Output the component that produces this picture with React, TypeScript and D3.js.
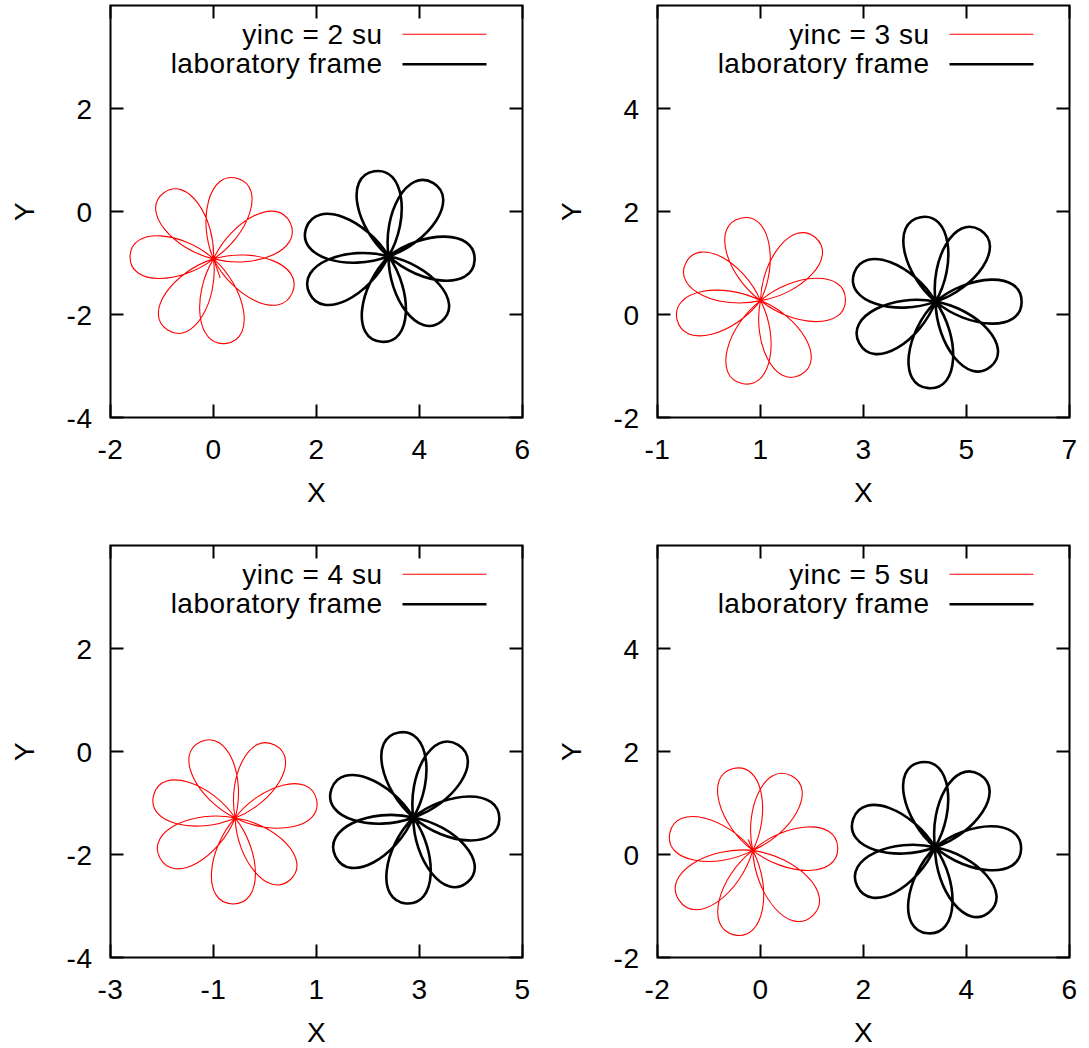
import React from 'react';
import * as d3 from 'd3';

// ---------- data ----------
const panelLabels = ['yinc = 2 su', 'yinc = 3 su', 'yinc = 4 su', 'yinc = 5 su'];
const labFrameLabel = 'laboratory frame';
const xAxisLabel = 'X';
const yAxisLabel = 'Y';

const xDomains: [number, number][] = [[-2, 6], [-1, 7], [-3, 5], [-2, 6]];
const yDomains: [number, number][] = [[-4, 4], [-2, 6], [-4, 4], [-2, 6]];
const xTickValues = [[-2, 0, 2, 4, 6], [-1, 1, 3, 5, 7], [-3, -1, 1, 3, 5], [-2, 0, 2, 4, 6]];
const yTickValues = [[-4, -2, 0, 2], [-2, 0, 2, 4], [-4, -2, 0, 2], [-2, 0, 2, 4]];

// red (moving frame) flowers: centre and seven petal tips
const redCenters: [number, number][] = [[0.0, -0.92], [1.0, 0.27], [-0.58, -1.29], [-0.15, 0.08]];
const redTips: [number, number][][] = [
  [[0.47, 0.64], [-0.97, 0.36], [-1.62, -0.87], [-0.89, -2.30], [0.25, -2.56], [1.53, -1.58], [1.49, -0.22]],
  [[0.61, 1.87], [2.07, 1.49], [2.65, 0.29], [1.78, -1.17], [0.64, -1.34], [-0.62, -0.10], [-0.45, 1.0]],
  [[-1.25, 0.19], [0.20, 0.12], [1.0, -0.93], [0.49, -2.49], [-0.63, -2.96], [-2.04, -2.07], [-2.16, -0.84]],
  [[-0.53, 1.67], [0.60, 1.53], [1.50, 0.13], [1.01, -1.19], [-0.51, -1.56], [-1.58, -0.89], [-1.76, 0.42]],
];
const redTails: ([number, number] | null)[] = [[0.13, -1.29], null, null, [-0.24, 0.29]];

// black (laboratory frame) flowers
const blackCenters: [number, number][] = [[3.40, -0.87], [4.40, 0.25], [2.88, -1.28], [3.39, 0.14]];
const blackTips: [number, number][][] = [
  [[3.12, 0.78], [4.27, 0.55], [5.07, -0.94], [4.43, -2.13], [3.26, -2.53], [1.86, -1.58], [1.80, -0.32]],
  [[4.11, 1.89], [5.27, 1.64], [6.07, 0.25], [5.47, -1.01], [4.26, -1.43], [2.92, -0.56], [2.82, 0.81]],
  [[2.60, 0.37], [3.75, 0.13], [4.55, -1.31], [3.93, -2.54], [2.74, -2.95], [1.37, -2.04], [1.29, -0.73]],
  [[3.11, 1.79], [4.26, 1.55], [5.06, 0.11], [4.44, -1.12], [3.25, -1.53], [1.88, -0.62], [1.80, 0.69]],
];

// ---------- layout ----------
const W = 1089;
const H = 1048;
const panelLeft = [110.5, 657.5, 110.5, 657.5];
const panelTop = [5.5, 5.5, 545.5, 545.5];
const plotSize = 412;
const FONT = '"Liberation Sans", Arial, Helvetica, sans-serif';
const FS = 28;
const LS = 0.5;
const TICK = 13;
// petal glyph shape
const PETAL_BETA = (40 * Math.PI) / 180; // departure angle at the centre
const PETAL_A = 0.5; // handle length at the centre (fraction of petal length)
const PETAL_B = 0.36; // handle length at the tip (fraction of petal length)

function petalPath(p: d3.Path, cx: number, cy: number, tx: number, ty: number) {
  const dx = tx - cx;
  const dy = ty - cy;
  const L = Math.hypot(dx, dy);
  const ang = Math.atan2(dy, dx);
  const pt = (bx: number, by: number, a: number, len: number): [number, number] => [bx + len * Math.cos(a), by + len * Math.sin(a)];
  const c1 = pt(cx, cy, ang + PETAL_BETA, PETAL_A * L);
  const c2 = pt(tx, ty, ang + Math.PI / 2, PETAL_B * L);
  const c3 = pt(tx, ty, ang - Math.PI / 2, PETAL_B * L);
  const c4 = pt(cx, cy, ang - PETAL_BETA, PETAL_A * L);
  p.moveTo(cx, cy);
  p.bezierCurveTo(c1[0], c1[1], c2[0], c2[1], tx, ty);
  p.bezierCurveTo(c3[0], c3[1], c4[0], c4[1], cx, cy);
}

function Panel({ i }: { i: number }) {
  const left = panelLeft[i];
  const top = panelTop[i];
  const x = d3.scaleLinear().domain(xDomains[i]).range([left, left + plotSize]);
  const y = d3.scaleLinear().domain(yDomains[i]).range([top + plotSize, top]);
  const right = left + plotSize;
  const bottom = top + plotSize;
  const textStyle = { fontFamily: FONT, fontSize: FS, letterSpacing: LS } as React.CSSProperties;

  const flower = (center: [number, number], tips: [number, number][]) => {
    const p = d3.path();
    tips.forEach((t) => petalPath(p, x(center[0]), y(center[1]), x(t[0]), y(t[1])));
    return p.toString();
  };

  const tail = redTails[i];
  const lineY1 = top + 28.8;
  const lineY2 = top + 58.8;

  return (
    <g>
      {/* curves */}
      <path d={flower(redCenters[i], redTips[i])} fill="none" stroke="#ff0000" strokeWidth={1.1} />
      {tail && (
        <line x1={x(redCenters[i][0])} y1={y(redCenters[i][1])} x2={x(tail[0])} y2={y(tail[1])} stroke="#ff0000" strokeWidth={1.1} />
      )}
      <path d={flower(blackCenters[i], blackTips[i])} fill="none" stroke="#000" strokeWidth={2.6} strokeLinejoin="round" />

      {/* frame */}
      <rect x={left} y={top} width={plotSize} height={plotSize} fill="none" stroke="#000" strokeWidth={2} />
      {xTickValues[i].map((v) => (
        <g key={'xt' + v}>
          <line x1={x(v)} x2={x(v)} y1={bottom} y2={bottom - TICK} stroke="#000" strokeWidth={2} />
          <line x1={x(v)} x2={x(v)} y1={top} y2={top + TICK} stroke="#000" strokeWidth={2} />
          <text x={x(v)} y={bottom + 41} textAnchor="middle" style={textStyle}>{v}</text>
        </g>
      ))}
      {yTickValues[i].map((v) => (
        <g key={'yt' + v}>
          <line x1={left} x2={left + TICK} y1={y(v)} y2={y(v)} stroke="#000" strokeWidth={2} />
          <line x1={right} x2={right - TICK} y1={y(v)} y2={y(v)} stroke="#000" strokeWidth={2} />
          <text x={left - 18} y={y(v) + 10} textAnchor="end" style={textStyle}>{v}</text>
        </g>
      ))}
      <text x={(left + right) / 2} y={bottom + 84} textAnchor="middle" style={textStyle}>{xAxisLabel}</text>
      <text transform={`translate(${left - 77},${(top + bottom) / 2}) rotate(-90)`} textAnchor="middle" style={textStyle}>{yAxisLabel}</text>

      {/* legend */}
      <text x={right - 140} y={lineY1 + 9.5} textAnchor="end" style={textStyle}>{panelLabels[i]}</text>
      <line x1={right - 120} x2={right - 36} y1={lineY1} y2={lineY1} stroke="#ff0000" strokeWidth={1.1} />
      <text x={right - 140} y={lineY2 + 8.5} textAnchor="end" style={textStyle}>{labFrameLabel}</text>
      <line x1={right - 120} x2={right - 36} y1={lineY2} y2={lineY2} stroke="#000" strokeWidth={2.4} />
    </g>
  );
}

export default function App() {
  return (
    <svg width={W} height={H} viewBox={`0 0 ${W} ${H}`} style={{ position: 'absolute', left: 0, top: 0, background: '#fff' }}>
      <rect x={0} y={0} width={W} height={H} fill="#fff" />
      {[0, 1, 2, 3].map((i) => (
        <Panel key={i} i={i} />
      ))}
    </svg>
  );
}
